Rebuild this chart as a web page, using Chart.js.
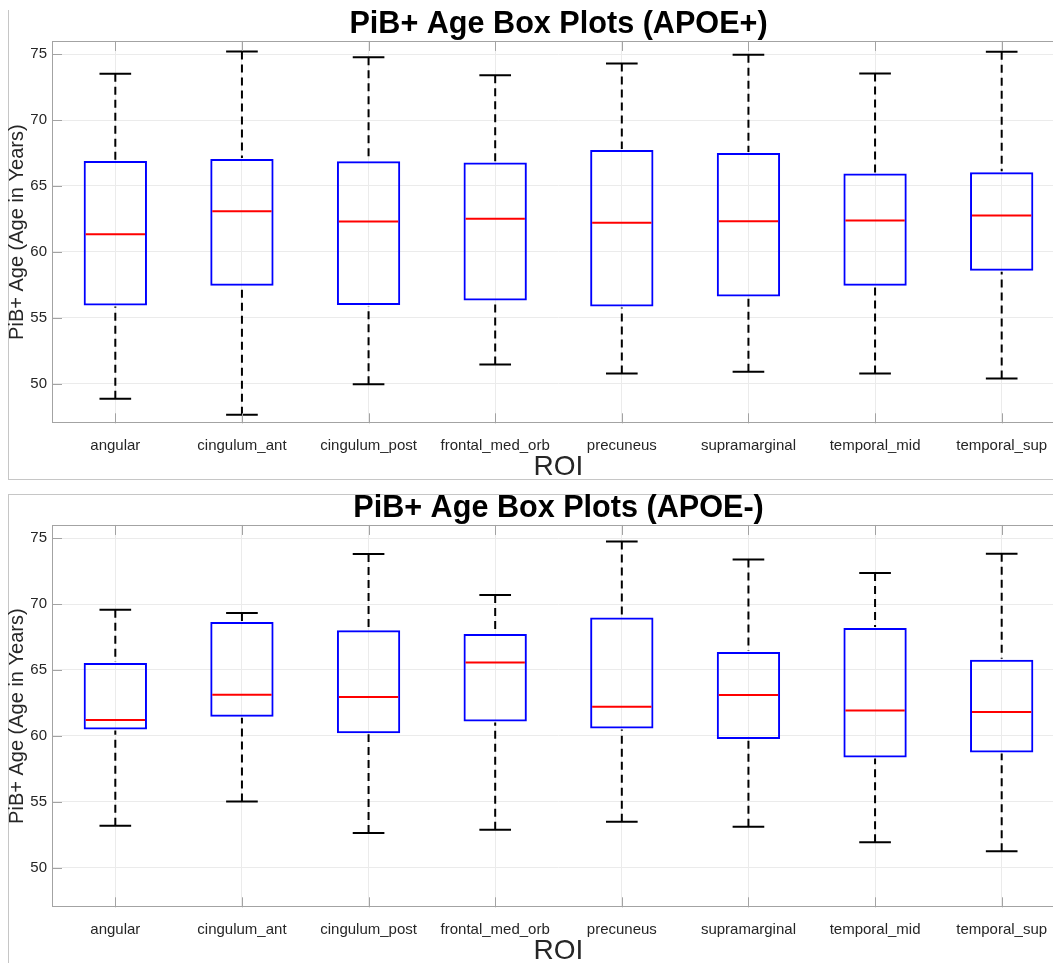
<!DOCTYPE html>
<html>
<head>
<meta charset="utf-8">
<title>PiB+ Age Box Plots</title>
<script src="https://cdn.jsdelivr.net/npm/chart.js@4.4.1/dist/chart.umd.min.js"></script>
<style>
  html, body { margin: 0; padding: 0; background: #ffffff; width: 1053px; height: 963px; overflow: hidden; }
  .frame { position: absolute; box-sizing: border-box; width: 1200px; }
  #frame1 { left: 8px; top: 10px; height: 470px; border-left: 1px solid #c6c6c6; border-bottom: 1px solid #c6c6c6; }
  #frame2 { left: 8px; top: 494px; height: 600px; border-left: 1px solid #c6c6c6; border-top: 1px solid #c6c6c6; }
  canvas { position: absolute; left: 0; }
  #c1 { top: 0; }
  #c2 { top: 484px; }
</style>
</head>
<body>
<div class="frame" id="frame1"></div>
<div class="frame" id="frame2"></div>
<canvas id="c1" width="1075" height="484"></canvas>
<canvas id="c2" width="1075" height="484"></canvas>
<script>
// Regions of interest shown along the x axis
const categories = ['angular', 'cingulum_ant', 'cingulum_post', 'frontal_med_orb',
                    'precuneus', 'supramarginal', 'temporal_mid', 'temporal_sup'];
const yTickValues = [50, 55, 60, 65, 70, 75];

// APOE+ group: whisker ends, quartiles and medians (years)
const posLow    = [48.87, 47.65, 49.97, 51.46, 50.78, 50.91, 50.78, 50.40];
const posQ1     = [55.93, 57.44, 55.98, 56.31, 55.86, 56.62, 57.44, 58.58];
const posMedian = [61.33, 63.09, 62.31, 62.51, 62.22, 62.32, 62.39, 62.76];
const posQ3     = [66.90, 67.05, 66.88, 66.78, 67.73, 67.50, 65.94, 66.04];
const posHigh   = [73.51, 75.20, 74.77, 73.39, 74.29, 74.95, 73.54, 75.18];

// APOE- group
const negLow    = [53.18, 55.03, 52.63, 52.88, 53.48, 53.11, 51.94, 51.26];
const negQ1     = [60.48, 61.46, 60.20, 61.09, 60.56, 59.77, 58.36, 58.74];
const negMedian = [61.21, 63.13, 62.95, 65.56, 62.22, 63.11, 61.92, 61.82];
const negQ3     = [65.53, 68.64, 68.01, 67.73, 68.99, 66.36, 68.18, 65.78];
const negHigh   = [69.57, 69.32, 73.79, 70.68, 74.75, 73.38, 72.35, 73.81];

Chart.defaults.font.family = '"Liberation Sans", Arial, Helvetica, sans-serif';
Chart.defaults.color = '#262626';

// Whiskers, caps, medians, plus the boxed axes with inward ticks
const boxplotExtras = {
  id: 'boxplotExtras',
  afterDatasetsDraw(chart, args, opts) {
    const { ctx, chartArea: a, scales: { x, y } } = chart;
    const st = opts.stats;
    const step = x.getPixelForValue(1) - x.getPixelForValue(0);
    const halfBox = step * 0.25;
    const halfCap = step * 0.125;
    ctx.save();
    st.median.forEach((m, i) => {
      const cx = x.getPixelForValue(i);
      const yHigh = y.getPixelForValue(st.high[i]);
      const yQ3 = y.getPixelForValue(st.q3[i]);
      const yQ1 = y.getPixelForValue(st.q1[i]);
      const yLow = y.getPixelForValue(st.low[i]);
      // dashed whiskers
      ctx.strokeStyle = '#000000';
      ctx.lineWidth = 2;
      ctx.setLineDash([8, 5]);
      ctx.beginPath();
      ctx.moveTo(cx, yHigh); ctx.lineTo(cx, yQ3 - 1);
      ctx.moveTo(cx, yLow); ctx.lineTo(cx, yQ1 + 1);
      ctx.stroke();
      ctx.setLineDash([]);
      // whisker caps
      ctx.beginPath();
      ctx.moveTo(cx - halfCap, yHigh); ctx.lineTo(cx + halfCap, yHigh);
      ctx.moveTo(cx - halfCap, yLow); ctx.lineTo(cx + halfCap, yLow);
      ctx.stroke();
      // median
      const yMed = y.getPixelForValue(m);
      ctx.strokeStyle = '#ff0000';
      ctx.beginPath();
      ctx.moveTo(cx - halfBox + 2, yMed); ctx.lineTo(cx + halfBox - 2, yMed);
      ctx.stroke();
    });
    // axes box
    ctx.strokeStyle = '#a3a3a3';
    ctx.lineWidth = 1;
    ctx.strokeRect(Math.round(a.left) + 0.5, Math.round(a.top) + 0.5,
                   Math.round(a.right - a.left) - 1, Math.round(a.bottom - a.top) - 1);
    // inward tick marks
    ctx.beginPath();
    categories.forEach((c, i) => {
      const px = Math.round(x.getPixelForValue(i)) + 0.5;
      ctx.moveTo(px, a.bottom); ctx.lineTo(px, a.bottom - 10);
      ctx.moveTo(px, a.top); ctx.lineTo(px, a.top + 10);
    });
    yTickValues.forEach(v => {
      const py = Math.round(y.getPixelForValue(v)) + 0.5;
      ctx.moveTo(a.left, py); ctx.lineTo(a.left + 10, py);
    });
    ctx.stroke();
    ctx.restore();
  }
};

function buildBoxChart(canvasId, titleText, stats) {
  return new Chart(document.getElementById(canvasId), {
    type: 'bar',
    data: {
      labels: categories,
      datasets: [{
        data: stats.q1.map((v, i) => [v, stats.q3[i]]),
        backgroundColor: 'rgba(255,255,255,0)',
        borderColor: '#0000ff',
        borderWidth: 2,
        borderSkipped: false,
        categoryPercentage: 1,
        barPercentage: 0.5
      }]
    },
    options: {
      responsive: false,
      animation: false,
      devicePixelRatio: 1,
      layout: { padding: { left: 0, right: 10, top: 0, bottom: 0 } },
      plugins: {
        legend: { display: false },
        tooltip: { enabled: false },
        title: {
          display: true,
          fullSize: false,
          text: titleText,
          color: '#000000',
          font: { size: 30.6, weight: 'bold', lineHeight: 1.1 },
          padding: { top: 7.3, bottom: 0 }
        },
        boxplotExtras: { stats }
      },
      scales: {
        x: {
          offset: true,
          grid: { offset: false, color: '#ebebeb', drawTicks: false },
          border: { display: false },
          ticks: { padding: 14, autoSkip: false, maxRotation: 0, color: '#262626', font: { size: 15 } },
          title: { display: true, text: 'ROI', color: '#262626', font: { size: 28, lineHeight: 1.2 }, padding: { top: 0, bottom: 0 } },
          afterFit(scale) { scale.height = 60.7; }
        },
        y: {
          min: 47,
          max: 76,
          grid: { color: '#ebebeb', drawTicks: false },
          border: { display: false },
          afterBuildTicks(scale) { scale.ticks = yTickValues.map(v => ({ value: v })); },
          ticks: { padding: 5, color: '#262626', font: { size: 15 } },
          title: { display: true, text: 'PiB+ Age (Age in Years)', color: '#262626', font: { size: 20, lineHeight: 1.2 }, padding: { top: 5.5, bottom: 0 } },
          afterFit(scale) { scale.width = 52; }
        }
      }
    },
    plugins: [boxplotExtras]
  });
}

buildBoxChart('c1', 'PiB+ Age Box Plots (APOE+)',
  { low: posLow, q1: posQ1, median: posMedian, q3: posQ3, high: posHigh });
buildBoxChart('c2', 'PiB+ Age Box Plots (APOE-)',
  { low: negLow, q1: negQ1, median: negMedian, q3: negQ3, high: negHigh });
</script>
</body>
</html>
